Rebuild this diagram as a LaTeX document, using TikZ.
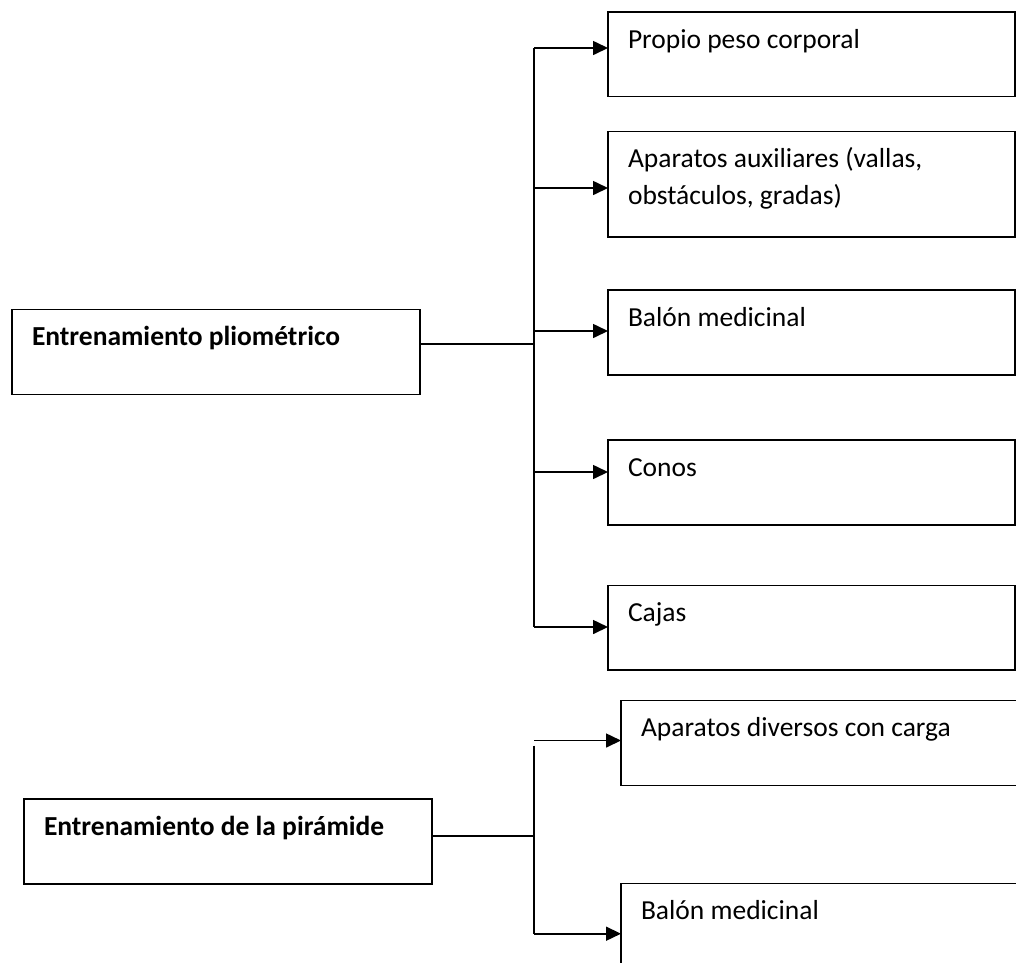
\documentclass[tikz,border=0pt]{standalone}
\usepackage{fontspec}
\setmainfont{Carlito}
\usetikzlibrary{arrows.meta}
\begin{document}
\begin{tikzpicture}[x=1pt,y=-1pt,
  box/.style={draw, line width=1.6pt, rectangle, inner sep=0pt, outer sep=0pt, anchor=north west},
  rbox/.style={box, minimum width=407pt},
  lbox/.style={box, minimum width=408pt, minimum height=85pt},
  lbl/.style={anchor=base west, inner sep=0pt, outer sep=0pt, font=\fontsize{27.5}{37}\selectfont},
  blbl/.style={lbl, font=\fontsize{27.5}{37}\selectfont\bfseries},
  conn/.style={line width=1.6pt},
  arr/.style={conn, -{Triangle[length=15pt,width=14pt]}}]
\useasboundingbox (0,0) rectangle (1016,962);
\begin{scope}
\clip (0,0) rectangle (1016,962);
% upper group
\node[lbox] (L1) at (12,309.5) {};
\node[blbl] (L1t) at ([shift={(20,36)}]L1.north west) {Entrenamiento pliométrico};
\node[rbox, minimum height=84.5pt] (b1) at (608,12) {};
\node[lbl] (b1t) at ([shift={(20,36)}]b1.north west) {Propio peso corporal};
\node[rbox, minimum height=105.5pt] (b2) at (608,131.5) {};
\node[lbl] (b2t) at ([shift={(20,36)}]b2.north west) {\vtop{\hbox{Aparatos auxiliares (vallas,}\hbox{obstáculos, gradas)}}};
\node[rbox, minimum height=85pt] (b3) at (608,290) {};
\node[lbl] (b3t) at ([shift={(20,36)}]b3.north west) {Balón medicinal};
\node[rbox, minimum height=85pt] (b4) at (608,440) {};
\node[lbl] (b4t) at ([shift={(20,36)}]b4.north west) {Conos};
\node[rbox, minimum height=84.5pt] (b5) at (608,585.5) {};
\node[lbl] (b5t) at ([shift={(20,36)}]b5.north west) {Cajas};
\coordinate (j1) at (534,344);
\coordinate (c1) at ([yshift=7.8pt]L1.east);
\coordinate (p1) at ([yshift=6.25pt]b1.west);
\coordinate (p2) at ([yshift=-3.75pt]b2.west);
\coordinate (p3) at ([yshift=1.5pt]b3.west);
\coordinate (p4) at ([yshift=10.5pt]b4.west);
\coordinate (p5) at ([yshift=0.75pt]b5.west);
\draw[conn] (c1) -- (c1 -| j1);
\draw[conn] (p1 -| j1) -- (p5 -| j1);
\foreach \p in {p1,p2,p3,p4,p5} \draw[arr] (\p -| j1) -- (\p);
% lower group
\node[lbox] (L2) at (24,799) {};
\node[blbl] (L2t) at ([shift={(20,36)}]L2.north west) {Entrenamiento de la pirámide};
\node[box, minimum width=420pt, minimum height=85pt] (a1) at (621,700.5) {};
\node[lbl] (a1t) at ([shift={(20,36)}]a1.north west) {Aparatos diversos con carga};
\node[box, minimum width=420pt, minimum height=100pt] (a2) at (621,883.5) {};
\node[lbl] (a2t) at ([shift={(20,36)}]a2.north west) {Balón medicinal};
\coordinate (j2) at (534,836);
\coordinate (c2) at ([yshift=5.5pt]L2.east);
\coordinate (p6) at ([yshift=2.5pt]a1.west);
\coordinate (p7) at ([yshift=-0.2pt]a2.west);
\draw[conn] (c2) -- (c2 -| j2);
\draw[conn] (p6 -| j2) ++(0,5) -- (p7 -| j2);
\draw[arr] (p6 -| j2) -- (p6);
\draw[arr] (p7 -| j2) -- (p7);
\end{scope}
\end{tikzpicture}
\end{document}
